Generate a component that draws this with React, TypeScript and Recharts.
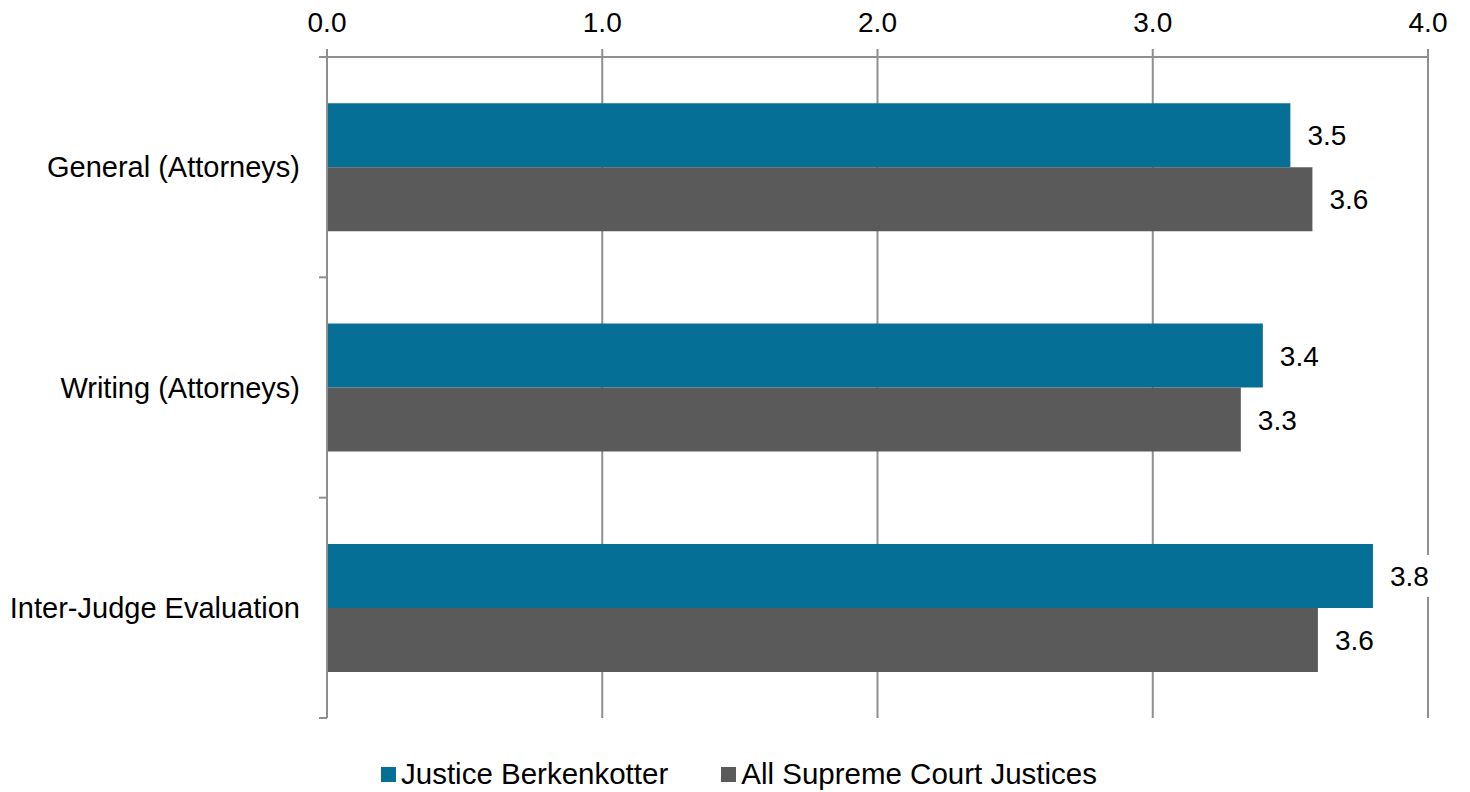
import React from 'react';
import { BarChart, Bar, XAxis, YAxis, CartesianGrid, Legend, LabelList } from 'recharts';

const categories = ['General (Attorneys)', 'Writing (Attorneys)', 'Inter-Judge Evaluation'];
const berkenkotter = [3.5, 3.4, 3.8];
const allJustices = [3.58, 3.32, 3.6];
const xTicks = [0, 1, 2, 3, 4];
const seriesNames = ['Justice Berkenkotter', 'All Supreme Court Justices'];
const seriesColors = ['#066f95', '#5a5a5a'];

const data = categories.map((name, i) => ({ name, berk: berkenkotter[i], all: allJustices[i] }));

const FONT = '"Liberation Sans", Arial, sans-serif';
const GRID = '#8f8f8f';
const CAT_MARGIN = 27;
const BAND_TICK = 8;

const CategoryTick = (props: any) => {
  const { x, y, payload, index } = props;
  const count = props.visibleTicksCount || categories.length;
  const band = (props.height || 0) / count;
  const ax = x + CAT_MARGIN;
  return (
    <g>
      <text x={x} y={y} dy="0.355em" textAnchor="end" fontSize={29} fontFamily={FONT} fill="#000">
        {payload.value}
      </text>
      {band > 0 && (
        <line x1={ax - BAND_TICK} x2={ax} y1={y - band / 2} y2={y - band / 2} stroke={GRID} strokeWidth={2} />
      )}
      {band > 0 && index === count - 1 && (
        <line x1={ax - BAND_TICK} x2={ax} y1={y + band / 2} y2={y + band / 2} stroke={GRID} strokeWidth={2} />
      )}
    </g>
  );
};

const ValueLabel = (props: any) => {
  const vb = props.viewBox || props;
  const x = vb.x ?? props.x;
  const y = vb.y ?? props.y;
  const w = vb.width ?? props.width;
  const h = vb.height ?? props.height;
  const tx = x + w + 17;
  const cy = y + h / 2;
  const text = Number(props.value).toFixed(1);
  return (
    <g>
      <rect x={tx - 3} y={cy - 21} width={46} height={42} fill="#ffffff" />
      <text x={tx} y={cy} dy="0.355em" fontSize={28} fontFamily={FONT} fill="#000" textAnchor="start">
        {text}
      </text>
    </g>
  );
};

const renderLegend = () => (
  <div
    style={{
      display: 'flex',
      justifyContent: 'center',
      alignItems: 'center',
      height: 32,
      fontFamily: FONT,
      fontSize: 29.5,
      color: '#000',
      paddingLeft: 8,
    }}
  >
    {seriesNames.map((s, i) => (
      <div key={s} style={{ display: 'flex', alignItems: 'center', marginLeft: i ? 53 : 0 }}>
        <span style={{ display: 'inline-block', width: 15, height: 15, background: seriesColors[i], marginRight: 5 }} />
        <span>{s}</span>
      </div>
    ))}
  </div>
);

export default function App() {
  return (
    <div style={{ fontFamily: FONT }}>
      <BarChart
        width={1454}
        height={784}
        data={data}
        layout="vertical"
        margin={{ top: 10, right: 34, bottom: 42, left: 19 }}
        barCategoryGap="21%"
        barGap={0}
      >
        <CartesianGrid horizontal={false} vertical={true} stroke={GRID} strokeWidth={2} />
        <XAxis
          type="number"
          orientation="top"
          domain={[0, 4]}
          ticks={xTicks}
          interval={0}
          height={39}
          tickSize={8}
          tickMargin={17}
          tickFormatter={(v: number) => v.toFixed(1)}
          tick={{ fontSize: 28, fill: '#000', fontFamily: FONT }}
          stroke={GRID}
          strokeWidth={2}
        />
        <YAxis
          type="category"
          dataKey="name"
          width={300}
          interval={0}
          tickLine={false}
          tickSize={0}
          tickMargin={CAT_MARGIN}
          tick={CategoryTick}
          axisLine={{ stroke: GRID, strokeWidth: 2 }}
        />
        <Legend
          content={renderLegend}
          verticalAlign="bottom"
          wrapperStyle={{ top: 750, bottom: 'auto', left: 0, width: 1454 }}
        />
        <Bar dataKey="berk" name={seriesNames[0]} fill={seriesColors[0]} isAnimationActive={false}>
          <LabelList dataKey="berk" content={ValueLabel} />
        </Bar>
        <Bar dataKey="all" name={seriesNames[1]} fill={seriesColors[1]} isAnimationActive={false}>
          <LabelList dataKey="all" content={ValueLabel} />
        </Bar>
      </BarChart>
    </div>
  );
}
